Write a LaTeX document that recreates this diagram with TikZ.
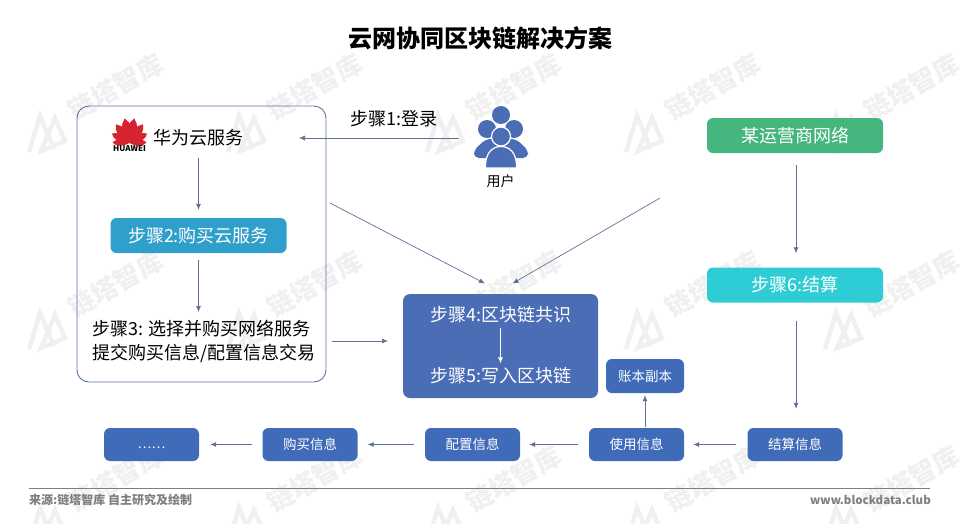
\documentclass[tikz,border=0pt]{standalone}
\usepackage{fontspec}
\setmainfont{Noto Sans CJK SC}
\usetikzlibrary{calc,arrows.meta,positioning}

\definecolor{linecol}{HTML}{5F6F96}
\definecolor{framecol}{HTML}{5A73A8}
\definecolor{chainblue}{HTML}{4A6DB5}
\definecolor{infoblue}{HTML}{3F6BB9}
\definecolor{buyblue}{HTML}{2F9FCB}
\definecolor{netgreen}{HTML}{45B67E}
\definecolor{settlecyan}{HTML}{2ECDD5}
\definecolor{hwred}{HTML}{D5232F}
\definecolor{markgray}{HTML}{F0F0F0}
\definecolor{footgray}{HTML}{7F7F7F}

\begin{document}
\begin{tikzpicture}[
    x=1pt,y=-1pt,
    arr/.style={-{Latex[length=6pt,width=5pt]},line width=0.7pt,draw=linecol},
    stepbox/.style={fill=#1,rounded corners=6pt,text=white,inner sep=0pt,
                    minimum width=176pt,minimum height=35pt,
                    font=\fontsize{18}{21}\selectfont},
    info/.style={fill=infoblue,rounded corners=6pt,text=white,inner sep=0pt,
                 minimum width=95pt,minimum height=33pt,
                 font=\fontsize{13.5}{16}\selectfont},
    plain/.style={font=\fontsize{18}{21}\selectfont,inner sep=0pt},
    wmark/.style={text=markgray,rotate=30,font=\fontsize{26}{30}\selectfont\bfseries,inner sep=0pt},
    foot/.style={text=footgray,font=\fontsize{12}{14}\selectfont\bfseries,inner sep=0pt},
]
\useasboundingbox (0,0) rectangle (960,523);

% ---- Watermark -----------------------------------------------------------
\foreach \wx in {45,244,443,642,841}
  \foreach \wy in {133,330,525} {
    \draw[markgray,line width=4.5pt,line join=miter]
      ($(\wx,\wy)+(-16,19)$) -- ($(\wx,\wy)+(-5,-17)$) -- ($(\wx,\wy)+(9,16)$)
      ($(\wx,\wy)+(-4,18)$) -- ($(\wx,\wy)+(10,-15)$) -- ($(\wx,\wy)+(20,8)$) -- cycle;
    \node[wmark] at ($(\wx,\wy)+(71,-46)$) {链塔智库};
  }

% ---- Title ---------------------------------------------------------------
\node[font=\fontsize{24}{28}\selectfont\bfseries,inner sep=0pt] (title) at (480,38) {云网协同区块链解决方案};

% ---- Cloud frame ---------------------------------------------------------
\node[draw=framecol,line width=0.9pt,rounded corners=12pt,minimum width=249pt,
      minimum height=276pt,inner sep=0pt] (cloud) at (201.5,244) {};

% Huawei logo
\foreach \pa/\pl in {-88/17,-62/20,-36/23,-11/25,11/25,36/23,62/20,88/17}
  \fill[hwred,shift={(129.5,143)},rotate=\pa]
    (0,0) .. controls ({-0.26*\pl},{-0.45*\pl}) and ({-0.22*\pl},{-0.8*\pl}) .. (0,-\pl)
    .. controls ({0.22*\pl},{-0.8*\pl}) and ({0.26*\pl},{-0.45*\pl}) .. (0,0);
\node[font=\fontsize{8}{9}\selectfont\bfseries,inner sep=0pt] (hwmark) at (129.5,148.5) {HUAWEI};
\node[plain] (hw) at (198,138) {华为云服务};

\node[stepbox=buyblue] (buy) at (198.5,235.5) {步骤2:购买云服务};
\node[plain,align=left] (pick) at (204,341.5) {步骤3: 选择并购买网络服务\\[3pt]提交购买信息/配置信息交易};

\draw[arr,shorten <=11pt,shorten >=8pt] (hw.south-|buy.north) -- (buy.north);
\draw[arr,shorten <=7pt,shorten >=8pt] (buy.south) -- (buy.south|-pick.north);

% ---- User ----------------------------------------------------------------
\fill[chainblue] (501,115) circle (9) (487,129) circle (9) (514,129) circle (9);
\fill[chainblue,rounded corners=5pt] (474,158) -- (474,150) -- (486,139) -- (516,139) -- (528,150) -- (528,158) -- cycle;
\fill[chainblue,draw=white,line width=1.2pt] (501,136.5) circle (9.5);
\fill[chainblue,draw=white,line width=1.2pt] (485.5,168) .. controls (485,152) and (493,146.5) .. (501,146.5)
    .. controls (509,146.5) and (517,152) .. (516.5,168) -- cycle;
\fill[white] (470,168) rectangle (532,172);
\node[font=\fontsize{14}{16}\selectfont,inner sep=0pt] (user) at (500.5,181) {用户};
\coordinate (userend) at (459,138);
\coordinate (loginend) at (299,138);
\draw[arr] (userend) -- (loginend);
\node[plain] (login) at (394,119) {步骤1:登录};

% ---- Chain box -----------------------------------------------------------
\node[fill=chainblue,rounded corners=7pt,minimum width=195pt,minimum height=104pt,inner sep=0pt] (chain) at (500.5,346) {};
\node[plain,text=white] (consensus) at (500.5,315) {步骤4:区块链共识};
\node[plain,text=white] (write) at (500.5,376) {步骤5:写入区块链};
\draw[-{Latex[length=6pt,width=5pt]},line width=0.9pt,draw=white,shorten <=4pt,shorten >=4pt] (consensus) -- (write);

\coordinate (cloudout) at (330,203);
\coordinate (netout) at (660,198);
\coordinate (chainl) at (485,283.5);
\coordinate (chainr) at (512.5,283.5);
\coordinate (pickout) at (332,341);
\coordinate (chainin) at (388,341);
\draw[arr] (cloudout) -- (chainl);
\draw[arr] (netout) -- (chainr);
\draw[arr] (pickout) -- (chainin);

% ---- Operator ------------------------------------------------------------
\node[stepbox=netgreen] (net) at (795,135.5) {某运营商网络};
\node[stepbox=settlecyan] (settle) at (795,285) {步骤6:结算};
\node[info] (bill) at (795,444.5) {结算信息};
\draw[arr,shorten <=12pt,shorten >=14pt] (net.south) ++(1,0) -- (settle.north-|796,0);
\draw[arr,shorten <=18pt,shorten >=19pt] (settle.south) ++(1,0) -- (bill.north-|796,0);

% ---- Info row ------------------------------------------------------------
\node[info] (use) at (636.5,444.5) {使用信息};
\node[info,minimum width=78pt,minimum height=34pt] (copy) at (645,376) {账本副本};
\node[info] (conf) at (472.5,444.5) {配置信息};
\node[info] (buyinfo) at (310,444.5) {购买信息};
\node[info] (more) at (151.5,444.5) {};
\node[text=white,font=\fontsize{13}{15}\selectfont,inner sep=0pt] (dots) at (151.5,448) {……};

\draw[arr,shorten <=11pt,shorten >=9pt] (bill) -- (use);
\draw[arr,shorten <=11pt,shorten >=9pt] (use) -- (conf);
\draw[arr,shorten <=11pt,shorten >=10pt] (conf) -- (buyinfo);
\draw[arr,shorten <=10pt,shorten >=11pt] (buyinfo) -- (more);
\draw[arr,shorten <=1pt,shorten >=2pt] (use.north-|copy.south) -- (copy.south);

% ---- Footer --------------------------------------------------------------
\coordinate (rulel) at (29,488);
\coordinate (ruler) at (930,488);
\draw[footgray,line width=0.7pt] (rulel) -- (ruler);
\node[foot,anchor=west] (source) at (29,500) {来源:链塔智库 自主研究及绘制};
\node[foot,anchor=east,font=\fontsize{11.5}{13}\selectfont\bfseries] (site) at (931,499.5) {www.blockdata.club};

\end{tikzpicture}
\end{document}
